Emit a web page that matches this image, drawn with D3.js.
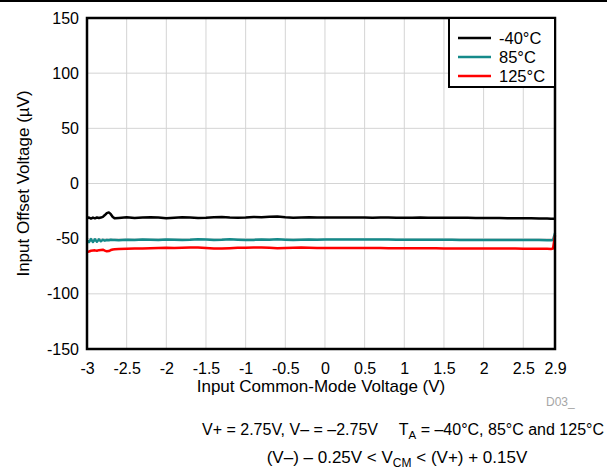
<!DOCTYPE html>
<html>
<head>
<meta charset="utf-8">
<script src="https://cdn.jsdelivr.net/npm/d3@7"></script>
<style>
  html, body { margin: 0; padding: 0; background: #fff; }
  svg { display: block; font-family: "Liberation Sans", Arial, Helvetica, sans-serif; }
</style>
</head>
<body>
<svg id="chart" width="607" height="471"></svg>
<script>
// ---- data ----
const voltage = [-3, -2.975, -2.95, -2.925, -2.9, -2.875, -2.85, -2.825, -2.8, -2.775,
  -2.75, -2.725, -2.7, -2.675, -2.65, -2.6, -2.5, -2.4, -2.3, -2.2,
  -2.1, -2.0, -1.9, -1.8, -1.7, -1.6, -1.5, -1.4, -1.3, -1.2,
  -1.1, -1.0, -0.9, -0.8, -0.7, -0.6, -0.5, -0.4, -0.3, -0.2,
  -0.1, 0, 0.1, 0.2, 0.3, 0.4, 0.5, 0.6, 0.7, 0.8,
  0.9, 1.0, 1.1, 1.2, 1.3, 1.4, 1.5, 1.6, 1.7, 1.8,
  1.9, 2.0, 2.1, 2.2, 2.3, 2.4, 2.5, 2.6, 2.7, 2.8,
  2.85, 2.875, 2.9];

const offsetMinus40 = [-31.5, -30.8, -31.8, -30.9, -31.6, -30.8, -31.3, -30.9, -30.2, -28.6,
  -26.8, -26.2, -27.8, -30.4, -31.6, -31.2, -30.6, -31.2, -30.9, -30.5,
  -30.9, -31.4, -31.0, -30.6, -30.8, -31.2, -31.0, -30.6, -30.4, -30.9,
  -31.1, -30.8, -30.3, -30.6, -30.2, -30.0, -30.6, -31.0, -30.9, -30.7,
  -30.8, -30.9, -30.8, -30.9, -30.9, -30.8, -30.9, -31.0, -30.9, -30.9,
  -31.0, -31.0, -31.0, -30.9, -31.0, -31.0, -31.1, -31.0, -31.1, -31.1,
  -31.2, -31.2, -31.3, -31.3, -31.4, -31.4, -31.5, -31.6, -31.7, -31.8,
  -31.9, -32.0, -32.0];

const offset85 = [-51.5, -53.2, -50.4, -53.0, -50.5, -52.8, -50.7, -52.3, -51.0, -51.8,
  -51.2, -51.5, -51.0, -51.3, -51.1, -51.4, -51.0, -51.2, -50.8, -51.0,
  -51.1, -50.7, -50.9, -51.2, -51.0, -50.6, -50.8, -51.3, -51.0, -50.5,
  -50.9, -51.2, -51.1, -50.8, -51.0, -50.6, -50.9, -51.1, -50.9, -50.8,
  -50.9, -50.8, -50.8, -50.8, -50.8, -50.7, -50.8, -50.8, -50.8, -50.8,
  -50.9, -50.9, -50.9, -50.9, -51.0, -51.0, -51.0, -51.0, -51.1, -51.1,
  -51.1, -51.1, -51.2, -51.2, -51.2, -51.2, -51.3, -51.3, -51.3, -51.4,
  -51.5, -51.2, -45.0];

const offset125 = [-62.0, -61.6, -61.0, -60.8, -60.6, -60.9, -60.4, -60.2, -60.0, -60.8,
  -61.5, -61.2, -60.3, -59.8, -59.6, -59.4, -59.1, -58.9, -58.8, -58.7,
  -58.5, -58.3, -58.4, -58.2, -58.0, -57.9, -58.4, -58.9, -59.0, -58.6,
  -58.3, -58.2, -58.0, -58.1, -58.3, -58.6, -58.4, -58.2, -58.1, -58.2,
  -58.4, -58.5, -58.5, -58.5, -58.4, -58.4, -58.5, -58.5, -58.5, -58.6,
  -58.6, -58.6, -58.6, -58.7, -58.7, -58.7, -58.8, -58.8, -58.8, -58.9,
  -58.9, -58.9, -59.0, -59.0, -59.0, -59.0, -59.1, -59.1, -59.1, -59.2,
  -59.3, -59.0, -47.0];

const seriesNames = ["-40°C", "85°C", "125°C"];
const seriesColors = ["#000000", "#158a8a", "#ff0000"];
const xTicks = [-3, -2.5, -2, -1.5, -1, -0.5, 0, 0.5, 1, 1.5, 2, 2.5, 2.9];
const yTicks = [-150, -100, -50, 0, 50, 100, 150];
const xGrid = [-2.5, -2, -1.5, -1, -0.5, 0, 0.5, 1, 1.5, 2, 2.5];
const yGrid = [-100, -50, 0, 50, 100];

// ---- layout ----
const L = 87, R = 555, T = 18, B = 349;
const svg = d3.select("#chart");
const x = d3.scaleLinear().domain([-3, 2.9]).range([L, R]);
const y = d3.scaleLinear().domain([-150, 150]).range([B, T]);

// top rule
svg.append("line").attr("x1", 0).attr("x2", 607).attr("y1", 1).attr("y2", 1)
  .attr("stroke", "#000").attr("stroke-width", 2);

// grid
svg.append("g").selectAll("line").data(xGrid).join("line")
  .attr("x1", d => x(d)).attr("x2", d => x(d)).attr("y1", T).attr("y2", B)
  .attr("stroke", "#d4d4d4").attr("stroke-width", 1);
svg.append("g").selectAll("line").data(yGrid).join("line")
  .attr("x1", L).attr("x2", R).attr("y1", d => y(d)).attr("y2", d => y(d))
  .attr("stroke", "#d4d4d4").attr("stroke-width", 1);

// axes (labels only)
const xAxis = svg.append("g").attr("transform", `translate(0,${B + 13})`)
  .call(d3.axisBottom(x).tickValues(xTicks).tickSize(0).tickPadding(0).tickFormat(d => String(d)));
xAxis.select(".domain").remove();
xAxis.selectAll("text").attr("font-size", 16).attr("fill", "#000")
  .attr("font-family", "Liberation Sans, Arial, sans-serif").attr("dy", "0.75em");

const yAxis = svg.append("g").attr("transform", `translate(${L - 8},0)`)
  .call(d3.axisLeft(y).tickValues(yTicks).tickSize(0).tickPadding(0).tickFormat(d => String(d)));
yAxis.select(".domain").remove();
yAxis.selectAll("text").attr("font-size", 16).attr("fill", "#000")
  .attr("font-family", "Liberation Sans, Arial, sans-serif");

// series lines
const allSeries = [offsetMinus40, offset85, offset125];
const line = d3.line().x(d => x(d[0])).y(d => y(d[1])).curve(d3.curveLinear);
allSeries.forEach((vals, i) => {
  const pts = voltage.map((v, k) => [v, vals[k]]);
  svg.append("path").datum(pts).attr("d", line)
    .attr("fill", "none").attr("stroke", seriesColors[i]).attr("stroke-width", 2.5)
    .attr("stroke-linejoin", "round");
});

// frame
svg.append("rect").attr("x", L).attr("y", T).attr("width", R - L).attr("height", B - T)
  .attr("fill", "none").attr("stroke", "#000").attr("stroke-width", 2.5);

// legend
const lg = svg.append("g");
lg.append("rect").attr("x", 449).attr("y", T).attr("width", R - 449).attr("height", 69)
  .attr("fill", "#fff").attr("stroke", "#000").attr("stroke-width", 2);
const rowY = [38, 57, 76];
seriesNames.forEach((n, i) => {
  lg.append("line").attr("x1", 458).attr("x2", 491).attr("y1", rowY[i]).attr("y2", rowY[i])
    .attr("stroke", seriesColors[i]).attr("stroke-width", 2.5);
  lg.append("text").attr("x", 499).attr("y", rowY[i]).attr("dy", "0.35em")
    .attr("font-size", 16.5).text(n);
});

// axis titles
svg.append("text").attr("x", (L + R) / 2).attr("y", 392).attr("text-anchor", "middle")
  .attr("font-size", 17).text("Input Common-Mode Voltage (V)");
svg.append("text").attr("transform", `translate(29,${(T + B) / 2}) rotate(-90)`)
  .attr("text-anchor", "middle").attr("font-size", 17).text("Input Offset Voltage (µV)");

// figure id
svg.append("text").attr("x", 546).attr("y", 406).attr("font-size", 12).attr("fill", "#a6a6a6").text("D03_");

// conditions
const c1 = svg.append("text").attr("x", 202).attr("y", 435).attr("font-size", 16);
c1.text("V+ = 2.75V, V– = –2.75V");
const c2 = svg.append("text").attr("x", 604).attr("y", 435).attr("font-size", 16).attr("text-anchor", "end");
c2.append("tspan").text("T");
c2.append("tspan").attr("font-size", 11.5).attr("dy", 4).text("A");
c2.append("tspan").attr("dy", -4).text(" = –40°C, 85°C and 125°C");
const c3 = svg.append("text").attr("x", 397).attr("y", 463).attr("font-size", 17).attr("text-anchor", "middle");
c3.append("tspan").text("(V–) – 0.25V < V");
c3.append("tspan").attr("font-size", 12).attr("dy", 4).text("CM");
c3.append("tspan").attr("dy", -4).text(" < (V+) + 0.15V");
</script>
</body>
</html>
